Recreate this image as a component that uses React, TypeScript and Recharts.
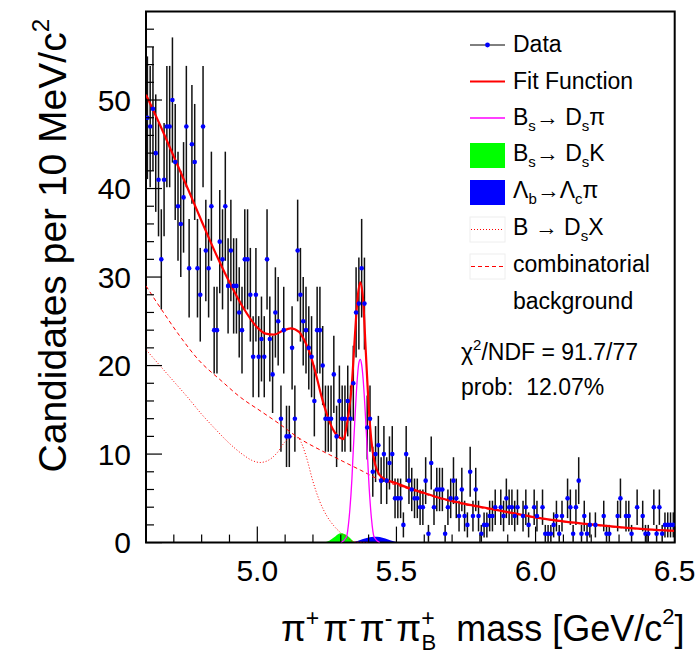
import {
  ComposedChart,
  XAxis,
  YAxis,
  Scatter,
  Line,
  Area,
  ErrorBar,
  ReferenceArea,
  Legend,
  Label,
} from "recharts";

const FONT = "'Liberation Sans', Arial, Helvetica, sans-serif";

// histogram: 10 MeV bins from 4.60 to 6.50 GeV/c^2
const massLow = 4.6;
const binWidth = 0.01;
const counts = [
  48, 47, 49, 44, 41, 32, 41, 47, 47, 50,
  43, 38, 36, 39, 47, 31, 45, 43, 31, 28,
  47, 33, 31, 38, 24, 24, 34, 32, 38, 29,
  33, 29, 29, 26, 24, 32, 32, 28, 21, 28,
  21, 23, 21, 32, 23, 19, 26, 25, 14, 24,
  12, 12, 22, 14, 33, 28, 25, 24, 22, 21,
  16, 24, 24, 20, 14, 14, 14, 19, 12, 16,
  14, 14, 16, 14, 18, 26, 27, 31, 27, 13,
  14, 8, 10, 11, 7, 10, 7, 9, 10, 5,
  5, 5, 2, 10, 7, 6, 5, 5, 4, 4,
  7, 1, 9, 4, 6, 6, 6, 1, 4, 5,
  7, 5, 3, 6, 3, 2, 8, 3, 6, 3,
  1, 2, 2, 3, 3, 4, 0, 4, 3, 5,
  4, 4, 3, 4, 0, 3, 4, 2, 0, 4,
  3, 0, 4, 1, 1, 1, 2, 3, 1, 3,
  0, 5, 4, 1, 4, 7, 1, 3, 1, 2,
  0, 2, 0, 0, 3, 1, 1, 0, 0, 3,
  5, 0, 3, 3, 1, 0, 4, 0, 3, 1,
  1, 0, 4, 1, 4, 1, 2, 2, 2, 2,
];

// total fit function
const fitMass = [
  4.6, 4.65, 4.7, 4.75, 4.8, 4.85, 4.9, 4.95, 5.0, 5.03, 5.06, 5.09, 5.12,
  5.15, 5.17, 5.19, 5.21, 5.23, 5.25, 5.27, 5.29, 5.31, 5.32, 5.33, 5.34,
  5.35, 5.36, 5.37, 5.38, 5.39, 5.4, 5.41, 5.42, 5.43, 5.45, 5.5, 5.55, 5.6,
  5.65, 5.7, 5.75, 5.8, 5.9, 6.0, 6.1, 6.2, 6.3, 6.4, 6.5,
];
const fitValue = [
  50.6, 47.2, 43.6, 40.0, 36.3, 32.7, 29.4, 26.5, 24.3, 23.6, 23.5, 23.9, 24.2,
  23.8, 22.8, 21.3, 19.1, 16.6, 14.5, 12.9, 12.0, 11.7, 13.0, 15.0, 18.0,
  23.0, 27.5, 29.4, 27.5, 21.5, 15.5, 11.5, 9.3, 8.2, 7.3, 6.7, 6.1, 5.6,
  5.1, 4.7, 4.35, 4.05, 3.45, 2.85, 2.4, 2.05, 1.75, 1.5, 1.33,
];

// Bs -> Ds pi
const dsPiMass = [
  5.3, 5.32, 5.33, 5.34, 5.345, 5.35, 5.355, 5.36, 5.365, 5.37, 5.375, 5.38,
  5.385, 5.39, 5.395, 5.4, 5.41, 5.42, 5.44,
];
const dsPiValue = [
  0, 0.6, 2.8, 7.2, 10.5, 13.5, 16.4, 18.8, 20.3, 20.7, 20.1, 18.6, 16.3,
  13.5, 10.5, 7.3, 2.8, 0.6, 0,
];

// Bs -> Ds K
const dsKMass = [5.24, 5.26, 5.28, 5.3, 5.32, 5.33, 5.34, 5.35, 5.36];
const dsKValue = [0, 0.25, 0.7, 1.05, 0.85, 0.6, 0.3, 0.05, 0];

// Lambda_b -> Lambda_c pi
const lbMass = [5.33, 5.35, 5.37, 5.39, 5.41, 5.43, 5.45, 5.47, 5.49, 5.51, 5.53];
const lbValue = [0, 0.1, 0.3, 0.5, 0.62, 0.65, 0.55, 0.35, 0.15, 0.03, 0];

// B -> Ds X
const dsXMass = [
  4.6, 4.65, 4.7, 4.75, 4.8, 4.85, 4.9, 4.95, 4.98, 5.01, 5.04, 5.07, 5.1,
  5.13, 5.15, 5.175, 5.2, 5.225, 5.25, 5.275, 5.3, 5.325, 5.35, 5.4,
];
const dsXValue = [
  21.8, 20.0, 18.2, 16.4, 14.5, 12.8, 11.2, 9.9, 9.3, 9.05, 9.3, 10.1, 11.4,
  12.0, 11.7, 9.8, 6.9, 4.6, 3.0, 1.9, 1.1, 0.5, 0.1, 0,
];

// combinatorial background
const combMass = [
  4.6, 4.65, 4.72, 4.79, 4.87, 4.94, 5.01, 5.08, 5.15, 5.23, 5.3, 5.37, 5.44,
  5.5, 5.6, 5.7, 5.8, 5.9, 6.0, 6.1, 6.2, 6.3, 6.4, 6.5,
];
const combValue = [
  29.0, 26.6, 23.4, 20.6, 18.3, 16.4, 14.9, 13.4, 11.8, 10.4, 9.3, 8.2, 7.1,
  6.5, 5.5, 4.6, 3.95, 3.4, 2.8, 2.35, 2.0, 1.7, 1.47, 1.3,
];

const xTicks = [4.7, 4.8, 4.9, 5.0, 5.1, 5.2, 5.3, 5.4, 5.5, 5.6, 5.7, 5.8, 5.9, 6.0, 6.1, 6.2, 6.3, 6.4, 6.5];
const xLabelTicks = [5.0, 5.5, 6.0, 6.5];
const yTicks = [
  0, 2, 4, 6, 8, 10, 12, 14, 16, 18, 20, 22, 24, 26, 28, 30, 32, 34, 36, 38,
  40, 42, 44, 46, 48, 50, 52, 54, 56, 58,
];
const yLabelTicks = [0, 10, 20, 30, 40, 50];

const toRows = (xs: number[], ys: number[]) => xs.map((x, i) => ({ x, y: ys[i] }));

const histRows = counts
  .map((n, i) => ({
    x: +(massLow + (i + 0.5) * binWidth).toFixed(3),
    y: n,
    err: Math.sqrt(n),
  }))
  .filter((r) => r.y > 0);

const fitRows = toRows(fitMass, fitValue);
const dsPiRows = toRows(dsPiMass, dsPiValue);
const dsKRows = toRows(dsKMass, dsKValue);
const lbRows = toRows(lbMass, lbValue);
const dsXRows = toRows(dsXMass, dsXValue);
const combRows = toRows(combMass, combValue);

const XTick = ({ x, y, payload }: any) => {
  const major = xLabelTicks.some((t) => Math.abs(t - payload.value) < 1e-6);
  return (
    <g>
      <line x1={x} x2={x} y1={y} y2={y - (major ? 16 : 8)} stroke="#000" strokeWidth={1.2} />
      {major && (
        <text x={x} y={y + 38} textAnchor="middle" fontSize={30} fontFamily={FONT} fill="#000">
          {payload.value.toFixed(1)}
        </text>
      )}
    </g>
  );
};

const YTick = ({ x, y, payload }: any) => {
  const major = yLabelTicks.includes(payload.value);
  return (
    <g>
      <line x1={x} x2={x + (major ? 16 : 8)} y1={y} y2={y} stroke="#000" strokeWidth={1.2} />
      {major && (
        <text x={x - 15} y={y + 10.5} textAnchor="end" fontSize={30} fontFamily={FONT} fill="#000">
          {payload.value}
        </text>
      )}
    </g>
  );
};

const XTitle = () => (
  <text x={281} y={641} fontSize={36} fontFamily={FONT} fill="#000">
    <tspan>π</tspan>
    <tspan fontSize={23} dy={-15}>+</tspan>
    <tspan dx={4} dy={15}>π</tspan>
    <tspan fontSize={23} dy={-15}>-</tspan>
    <tspan dx={4} dy={15}>π</tspan>
    <tspan fontSize={23} dy={-15}>-</tspan>
    <tspan dx={4} dy={15}>π</tspan>
    <tspan fontSize={23} dy={-15}>+</tspan>
    <tspan fontSize={22} dx={-13} dy={24}>B</tspan>
    <tspan dx={10} dy={-9}> mass [GeV/c</tspan>
    <tspan fontSize={22} dy={-17}>2</tspan>
    <tspan dy={17}>]</tspan>
  </text>
);

const YTitle = () => (
  <text
    transform="rotate(-90)"
    x={-19}
    y={66}
    textAnchor="end"
    fontSize={39}
    fontFamily={FONT}
    fill="#000"
  >
    Candidates per 10 MeV/c
    <tspan fontSize={24} dy={-17}>2</tspan>
  </text>
);

const LegendBox = () => (
  <svg width={700} height={420} style={{ fontFamily: FONT, overflow: "visible" }}>
    <g fontSize={23} fill="#000">
      <line x1={470} x2={505} y1={45} y2={45} stroke="#000" strokeWidth={1} />
      <circle cx={487.5} cy={45} r={2.4} fill="#0000ff" />
      <text x={513} y={52}>Data</text>

      <line x1={470} x2={505} y1={81.5} y2={81.5} stroke="#ff0000" strokeWidth={2} />
      <text x={513} y={88.5}>Fit Function</text>

      <line x1={470} x2={505} y1={118} y2={118} stroke="#ff00ff" strokeWidth={1.5} />
      <text x={513} y={124.5}>
        B
        <tspan fontSize={15} dy={6}>s</tspan>
        <tspan dy={-6}>→ D</tspan>
        <tspan fontSize={15} dy={6}>s</tspan>
        <tspan dy={-6}>π</tspan>
      </text>

      <rect x={470} y={143} width={35} height={25} fill="#00ff00" />
      <text x={513} y={161}>
        B
        <tspan fontSize={15} dy={6}>s</tspan>
        <tspan dy={-6}>→ D</tspan>
        <tspan fontSize={15} dy={6}>s</tspan>
        <tspan dy={-6}>K</tspan>
      </text>

      <rect x={470} y={180} width={35} height={25} fill="#0000ff" />
      <text x={513} y={198}>
        Λ
        <tspan fontSize={15} dy={6}>b</tspan>
        <tspan dy={-6}>→Λ</tspan>
        <tspan fontSize={15} dy={6}>c</tspan>
        <tspan dy={-6}>π</tspan>
      </text>

      <rect x={470} y={217} width={35} height={25} fill="none" stroke="#eee" />
      <line x1={471} x2={504} y1={229.5} y2={229.5} stroke="#ff0000" strokeWidth={1} strokeDasharray="1 2" />
      <text x={513} y={235}>
        B → D
        <tspan fontSize={15} dy={6}>s</tspan>
        <tspan dy={-6}>X</tspan>
      </text>

      <rect x={470} y={254} width={35} height={25} fill="none" stroke="#eee" />
      <line x1={471} x2={504} y1={266.5} y2={266.5} stroke="#ff0000" strokeWidth={1} strokeDasharray="4 3" />
      <text x={513} y={272}>combinatorial</text>
      <text x={513} y={308.5}>background</text>

      <text x={461} y={360}>
        χ
        <tspan fontSize={15} dy={-10}>2</tspan>
        <tspan dy={10}>/NDF = 91.7/77</tspan>
      </text>
      <text x={461} y={395} xmlSpace="preserve" style={{ whiteSpace: "pre" }}>
        prob:  12.07%
      </text>
    </g>
  </svg>
);

const DataDot = ({ cx, cy }: any) => <circle cx={cx} cy={cy} r={2.3} fill="#0000ff" />;

export default function App() {
  return (
    <div
      style={{
        position: "absolute",
        left: 0,
        top: 0,
        width: 700,
        height: 655,
        background: "#fff",
        fontFamily: FONT,
      }}
    >
      <ComposedChart
        width={700}
        height={655}
        margin={{ top: 11.5, right: 25.3, bottom: 72.4, left: 86 }}
      >
        <XAxis
          dataKey="x"
          type="number"
          domain={[4.6, 6.5]}
          ticks={xTicks}
          interval={0}
          tickSize={0}
          tickMargin={0}
          tickLine={false}
          axisLine={false}
          tick={<XTick />}
          height={40}
          allowDataOverflow
        >
          <Label content={XTitle} />
        </XAxis>
        <YAxis
          type="number"
          domain={[0, 60]}
          ticks={yTicks}
          interval={0}
          tickSize={0}
          tickMargin={0}
          tickLine={false}
          axisLine={false}
          tick={<YTick />}
          width={60}
          allowDataOverflow
        >
          <Label content={YTitle} />
        </YAxis>

        <Area
          data={dsKRows}
          dataKey="y"
          type="monotone"
          fill="#00ff00"
          fillOpacity={1}
          stroke="none"
          isAnimationActive={false}
        />
        <Area
          data={lbRows}
          dataKey="y"
          type="monotone"
          fill="#0000ff"
          fillOpacity={1}
          stroke="none"
          isAnimationActive={false}
        />

        {/* error bars first so the curves sit on top of them */}
        <Scatter data={histRows} dataKey="y" shape={() => <g />} isAnimationActive={false}>
          <ErrorBar
            dataKey="err"
            direction="y"
            width={0}
            stroke="#111"
            strokeWidth={1.5}
            isAnimationActive={false}
          />
        </Scatter>

        <Line
          data={combRows}
          dataKey="y"
          type="monotone"
          stroke="#ff0000"
          strokeWidth={1}
          strokeDasharray="4 3"
          dot={false}
          isAnimationActive={false}
        />
        <Line
          data={dsXRows}
          dataKey="y"
          type="monotone"
          stroke="#ff0000"
          strokeWidth={1}
          strokeDasharray="1 2"
          dot={false}
          isAnimationActive={false}
        />
        <Line
          data={dsPiRows}
          dataKey="y"
          type="monotone"
          stroke="#ff00ff"
          strokeWidth={1.3}
          dot={false}
          isAnimationActive={false}
        />
        <Line
          data={fitRows}
          dataKey="y"
          type="monotone"
          stroke="#ff0000"
          strokeWidth={2.2}
          dot={false}
          isAnimationActive={false}
        />

        <Scatter data={histRows} dataKey="y" shape={DataDot} isAnimationActive={false} />

        <ReferenceArea
          x1={4.6}
          x2={6.5}
          y1={0}
          y2={60}
          fill="none"
          stroke="#000"
          strokeWidth={2}
          ifOverflow="visible"
        />

        <Legend
          content={<LegendBox />}
          layout="horizontal"
          verticalAlign="middle"
          align="center"
          wrapperStyle={{ left: 0, top: 0, width: 700, height: 420 }}
        />
      </ComposedChart>
    </div>
  );
}
